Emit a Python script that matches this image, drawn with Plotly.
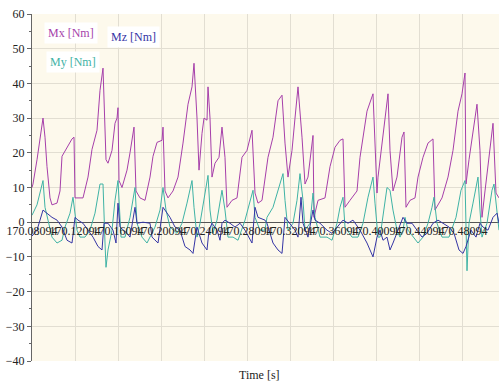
import plotly.graph_objects as go

T0 = 170.08094

# time offsets in ms from T0, and values [Nm]
mx_ms = [0, 0.9, 4.65, 7.44, 10.23, 12.09, 13.95, 16.74, 18.6, 23.26, 26.05, 27.91, 32.56, 37.21, 39.07, 40.0,
         42.79, 47.44, 52.09, 55.81, 60.47, 63.26, 66.05, 66.98, 68.84, 70.7, 74.42, 77.21, 79.07, 80.0, 80.93,
         83.72, 88.37, 91.16, 94.88, 96.74, 100.47, 105.12, 109.77, 112.56, 116.28, 120.93, 121.86, 123.72,
         126.51, 131.16, 135.81, 140.47, 145.12, 148.84, 150.7, 153.49, 155.35, 158.14, 160.0, 162.79, 163.72,
         165.58, 167.44, 170.23, 173.95, 176.74, 179.53, 181.4, 186.05, 190.7, 195.35, 200.0, 202.79, 204.65,
         207.44, 210.23, 213.95, 215.81, 216.74, 219.53, 224.19, 228.84, 232.56, 235.35, 238.14, 241.86, 244.65,
         247.44, 251.16, 253.95, 256.74, 261.4, 262.33, 266.05, 272.56, 277.21, 281.86, 286.51, 289.3, 291.16,
         295.81, 302.33, 305.12, 311.63, 317.21, 319.07, 320.93, 321.86, 325.58, 328.37, 331.16, 333.02, 335.81,
         339.53, 344.19, 346.05, 347.91, 351.63, 356.28, 359.07, 363.72, 368.37, 373.02, 374.88, 381.4, 386.98,
         391.63, 396.28, 400.0, 402.79, 403.72, 406.51, 411.16, 413.95, 416.74, 418.6, 421.4, 426.05, 428.84,
         431.63, 434.42]
mx_val = [10, 11, 18, 24.5, 30, 24.5, 16, 7, 5, 5.5, 9, 19, 21.6, 24, 24.5, 7,
          7, 7, 13, 21, 26.5, 38, 44.4, 36, 18, 17, 20.7, 28.5, 30, 33, 12,
          10, 15, 20, 27.4, 9, 7, 6.3, 13, 19, 23, 23.6, 27.4, 9,
          7, 9, 13, 22.8, 34, 39, 45.8, 30, 15, 25.6, 30, 29.4, 39,
          30, 13, 17, 18.7, 27.4, 18.7, 4.3, 6.3, 7, 18.7, 20.7, 24.5, 26.5,
          8.4, 5.5, 6.3, 10, 13, 18.7, 24.5, 35, 36.6, 22.8, 13, 20.7, 30,
          39, 24.5, 11, 13, 25, 1.4, 6.3, 7, 16, 21.6, 23.6, 24, 4.3,
          6.3, 9, 18.7, 32, 37, 20.7, 8.4, 13, 22.8, 29.4, 37, 20.7, 9,
          13, 24.5, 26, 4.3, 6.3, 7, 13, 18.7, 22.8, 24, 3.5, 7, 13,
          20.7, 32, 37, 43, 11, 18, 28.5, 34, 20.7, 1.4, 9, 20.7, 28.5,
          8.4, 7]

my_ms = [0, 4.65, 10.23, 12.09, 14.88, 18.6, 23.26, 27.91, 30.7, 35.35, 38.14, 40.0, 41.86, 44.65, 49.3,
         53.95, 58.6, 63.26, 66.05, 67.91, 68.84, 70.7, 74.42, 77.21, 80.0, 82.79, 86.51, 91.16, 95.81, 97.67,
         102.33, 106.98, 109.77, 114.42, 119.07, 121.86, 124.65, 128.37, 134.88, 139.53, 144.19, 148.84, 150.7,
         153.49, 156.28, 160.0, 163.72, 165.58, 168.37, 172.09, 176.74, 179.53, 182.33, 186.98, 191.63, 198.14,
         202.79, 205.58, 207.44, 212.09, 216.74, 218.6, 224.19, 228.84, 233.49, 235.35, 238.14, 242.79, 246.51,
         249.3, 252.09, 253.95, 258.6, 261.4, 263.26, 267.91, 274.42, 279.07, 283.72, 286.51, 289.3, 291.16,
         297.67, 303.26, 307.91, 312.56, 317.21, 319.07, 321.86, 323.72, 326.51, 330.23, 333.02, 335.81, 339.53,
         342.33, 345.12, 346.98, 349.77, 354.42, 359.07, 363.72, 368.37, 372.09, 373.95, 376.74, 381.4, 387.91,
         394.42, 399.07, 402.79, 404.65, 406.51, 410.23, 414.88, 416.74, 418.6, 423.26, 427.91, 429.77, 432.56,
         434.42]
my_val = [2, 5, 12, 4.3, 0.6, -4.3, -6, -5.2, -1.4, 2.6, 7.2, 2.6, -2.3, -4.3, -4.3,
          -2.3, 2.6, 11, 11, -6, -13, -8, -2.3, 6.3, 12, -4.3, -4.3, 1.4, 10, -0.3,
          -4.3, -6, -4.3, -1.4, 3.5, 10, 3.5, -1.4, -3.2, -0.3, 5.5, 12, 4.3,
          -4.3, -0.3, 6.3, 13.5, 3.5, -3.2, 0.6, 9.2, 3.5, -4.3, -4.3, -5.2, 0.6,
          6.3, 9.2, 1.4, -2.3, -2.3, 1.4, 4.3, 9.2, 14, 6.3, -2.3, -0.3, 6.3,
          14, 6.3, -2.3, -0.3, 8.4, 1.4, -4.3, -4.3, -5.2, -0.3, 4.3, 7.2, -1.4,
          -4.3, -4.3, -0.3, 7.2, 13, 5.5, -4.3, -4.3, 1.4, 10, 9.2, 3.5, -2.3,
          -4.3, -2.3, 1.4, -2.3, -4.3, -6, -4.3, -0.3, 4.3, 7.2, -0.3, -4.3, -4.3,
          1.4, 9.2, 12, -14, -0.3, 5.5, 13, 3.5, -4.3, -0.3, 9.2, 11, 3.5,
          -2.3]

mz_ms = [0, 4.65, 10.23, 13.95, 18.6, 23.26, 27.91, 32.56, 37.21, 40.0, 42.79, 47.44, 52.09, 56.74, 61.4,
         65.12, 66.98, 70.7, 75.35, 78.14, 80.0, 81.86, 88.37, 91.16, 95.81, 97.67, 103.26, 109.77, 111.63,
         117.21, 121.86, 123.72, 128.37, 133.02, 137.67, 142.33, 146.98, 149.77, 153.49, 158.14, 162.79, 164.65,
         167.44, 172.09, 174.88, 176.74, 179.53, 184.19, 188.84, 193.49, 198.14, 204.65, 207.44, 210.23, 216.74,
         218.6, 224.19, 228.84, 232.56, 235.35, 240.0, 244.65, 247.44, 250.23, 252.09, 256.74, 261.4, 263.26,
         267.91, 274.42, 279.07, 286.51, 289.3, 293.95, 298.6, 305.12, 311.63, 317.21, 320.93, 323.72, 326.51,
         330.23, 333.02, 335.81, 340.47, 345.12, 348.84, 353.49, 358.14, 362.79, 367.44, 373.02, 377.67, 382.33,
         387.91, 392.56, 397.21, 400.93, 403.72, 408.37, 413.02, 416.74, 419.53, 424.19, 428.84, 432.56, 434.42]
mz_val = [-4, -2.3, 3.5, 2.6, 1.4, 0.6, -1.4, -5.2, -6, 1.4, 0.6, -0.3, -2.3, -4.3, -7,
          -8, -0.3, -0.3, -2.3, -6, 5.5, -1.4, -3.2, -4.3, 4.3, -0.3, 0, -0.3, -4.3,
          -6, 4.3, 3.5, 1.4, -1.4, -2.3, -7, -8, -9, -1.4, -6, -8, -2.3,
          -0.3, -2.3, -5.2, -0.3, 0.6, -0.3, -1.4, -0.3, -2.3, -6, 4.3, 1.4, 0.6,
          -0.3, -6, -8, -9, 1.4, -0.3, -2.3, -4.3, 7.2, -0.3, -4.3, 3.5, 0.6,
          -0.3, -2.3, -3.2, -0.3, 0.6, -0.3, 0.6, -2.3, -6, -10, -4.3, -2.3, -5.2,
          -4.3, -8, -6, -2.3, 1.4, -0.3, -0.3, -2.3, -4.3, -3.2, -0.3, 0.6, -0.3,
          -1.4, -3.2, -8, -9, -7, -2.3, -4.3, -0.3, -1.4, -2.3, 1.4, 2.6, -0.3]

tick_steps = list(range(11))
tick_labels = ["170.08094", "170.12094", "170.16094", "170.20094", "170.24094", "170.28094",
               "170.32094", "170.36094", "170.40094", "170.44094", "170.48094"]

def to_t(ms):
    return [T0 + m / 1000.0 for m in ms]

SERIF = "Liberation Serif"

fig = go.Figure()
fig.add_trace(go.Scatter(x=to_t(mx_ms), y=mx_val, mode="lines", name="Mx [Nm]",
                         line=dict(color="#A63FAA", width=1)))
fig.add_trace(go.Scatter(x=to_t(my_ms), y=my_val, mode="lines", name="My [Nm]",
                         line=dict(color="#3FB3A5", width=1)))
fig.add_trace(go.Scatter(x=to_t(mz_ms), y=mz_val, mode="lines", name="Mz [Nm]",
                         line=dict(color="#3535A5", width=1)))

fig.update_layout(
    width=499, height=383,
    margin=dict(l=32, r=0, t=14, b=22),
    paper_bgcolor="white",
    plot_bgcolor="#FDF9EC",
    showlegend=False,
    font=dict(family=SERIF, size=12, color="#222222"),
    xaxis=dict(
        range=[T0, T0 + 0.43442],
        tickvals=[T0 + 0.04 * k for k in tick_steps],
        ticktext=tick_labels,
        tickangle=0,
        showgrid=True, gridcolor="#E2DED2", gridwidth=1,
        zeroline=False, showline=False,
        anchor="free", position=0.4,
        ticks="", tickfont=dict(family=SERIF, size=12, color="#222222"),
    ),
    yaxis=dict(
        range=[-40, 60], dtick=10,
        showgrid=True, gridcolor="#E2DED2", gridwidth=1,
        zeroline=True, zerolinecolor="#555555", zerolinewidth=1,
        showline=True, linecolor="#666666", linewidth=1,
        ticks="outside", ticklen=4, tickcolor="#666666",
        minor=dict(dtick=5, ticks="outside", ticklen=2, tickcolor="#666666", showgrid=False),
        tickfont=dict(family=SERIF, size=12, color="#222222"),
    ),
    annotations=[
        dict(text="Time [s]", xref="paper", yref="paper", x=0.488, y=-0.04,
             xanchor="center", yanchor="middle",
             showarrow=False, font=dict(family=SERIF, size=12, color="#222222")),
        dict(text="Mx [Nm]", xref="paper", yref="paper", x=0.0835, y=0.945,
             xanchor="center", yanchor="middle", showarrow=False,
             bgcolor="white", borderpad=3, font=dict(family=SERIF, size=12, color="#A63FAA")),
        dict(text="Mz [Nm]", xref="paper", yref="paper", x=0.218, y=0.934,
             xanchor="center", yanchor="middle", showarrow=False,
             bgcolor="white", borderpad=3, font=dict(family=SERIF, size=12, color="#3535A5")),
        dict(text="My [Nm]", xref="paper", yref="paper", x=0.0878, y=0.862,
             xanchor="center", yanchor="middle", showarrow=False,
             bgcolor="white", borderpad=3, font=dict(family=SERIF, size=12, color="#3FB3A5")),
    ],
)

fig.write_html("out.html", config={"displayModeBar": False},
               post_script="document.body.style.margin='0';")
